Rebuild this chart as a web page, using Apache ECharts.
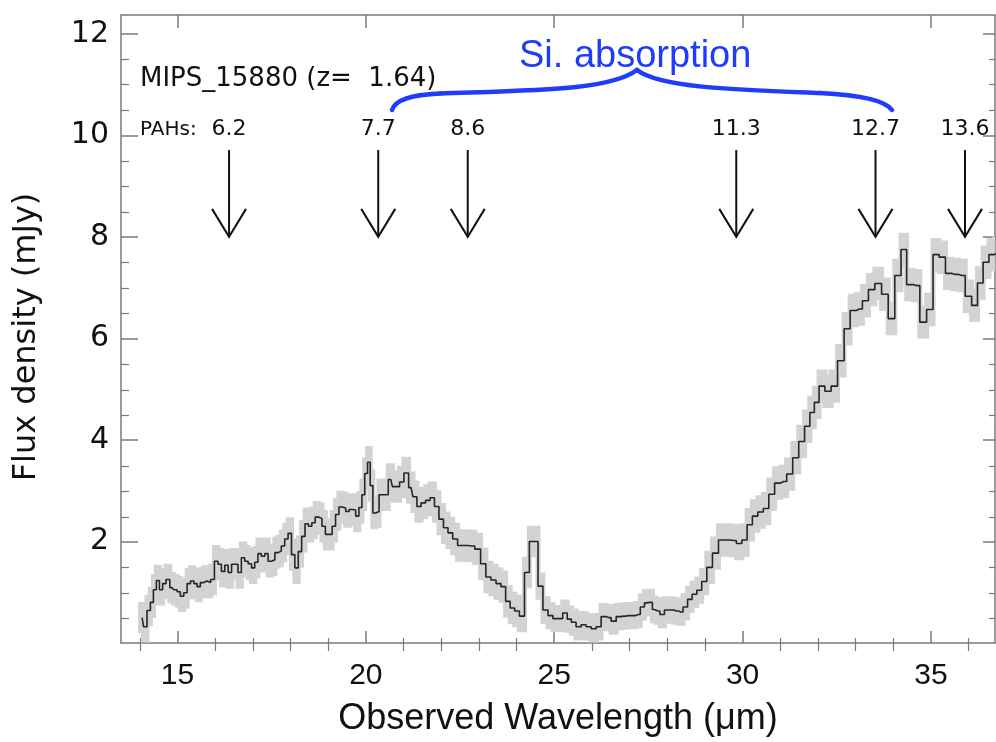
<!DOCTYPE html>
<html><head><meta charset="utf-8">
<script src="https://cdn.jsdelivr.net/npm/echarts@6/dist/echarts.min.js"></script>
<style>html,body{margin:0;padding:0;background:#fff}#c{width:996px;height:742px}</style>
</head><body><div id="c"></div><script>
// Observed wavelength (micron), bin centres
const wl = [
14.06,14.14,14.24,14.32,14.40,14.48,14.56,14.65,14.74,14.85,
14.95,15.03,15.12,15.21,15.30,15.39,15.48,15.56,15.65,15.74,
15.83,15.93,16.03,16.12,16.21,16.30,16.39,16.48,16.56,16.65,
16.74,16.83,16.92,17.01,17.09,17.18,17.27,17.36,17.45,17.54,
17.63,17.71,17.80,17.89,17.98,18.07,18.16,18.25,18.34,18.43,
18.52,18.61,18.70,18.79,18.88,18.97,19.06,19.15,19.24,19.33,
19.42,19.51,19.60,19.69,19.77,19.86,19.93,20.01,20.08,20.15,
20.22,20.30,20.40,20.53,20.66,20.75,20.84,20.95,21.07,21.20,
21.30,21.41,21.52,21.65,21.76,21.88,22.00,22.12,22.24,22.37,
22.50,22.63,22.81,22.97,23.12,23.25,23.39,23.52,23.65,23.77,
23.89,24.01,24.14,24.28,24.40,24.51,24.63,24.77,24.90,25.03,
25.16,25.29,25.40,25.51,25.65,25.78,25.91,26.05,26.18,26.31,
26.44,26.58,26.71,26.84,26.98,27.11,27.23,27.34,27.45,27.55,
27.66,27.75,27.86,27.99,28.12,28.24,28.36,28.48,28.60,28.72,
28.85,28.98,29.12,29.28,29.44,29.60,29.76,29.91,30.05,30.19,
30.33,30.48,30.62,30.77,30.93,31.09,31.25,31.41,31.57,31.72,
31.85,31.96,32.10,32.27,32.43,32.61,32.78,32.93,33.10,33.26,
33.42,33.60,33.78,33.95,34.13,34.28,34.43,34.61,34.80,34.97,
35.14,35.30,35.47,35.65,35.82,36.00,36.16,36.31,36.46,36.62,
36.75];
// Flux density (mJy)
const flux = [
0.50,0.32,0.64,0.80,1.05,1.23,1.05,1.17,1.25,1.09,
1.05,1.01,0.92,0.99,1.17,1.22,1.17,1.11,1.19,1.22,
1.19,1.25,1.61,1.55,1.41,1.53,1.39,1.55,1.55,1.39,
1.68,1.61,1.56,1.48,1.59,1.76,1.71,1.76,1.61,1.64,
1.78,1.81,1.91,2.05,2.16,1.74,1.48,1.80,2.10,2.35,
2.30,2.37,2.48,2.45,2.30,2.14,2.14,2.30,2.53,2.68,
2.66,2.59,2.63,2.62,2.50,2.67,2.92,3.34,3.56,3.10,
2.56,2.59,2.92,2.92,3.22,3.08,3.08,3.17,3.35,3.06,
2.88,2.69,2.76,2.81,2.86,2.69,2.44,2.27,2.17,2.05,
1.92,1.92,1.91,1.85,1.56,1.30,1.24,1.17,1.11,0.82,
0.69,0.63,0.53,1.39,2.00,2.00,1.12,0.65,0.54,0.48,
0.48,0.59,0.47,0.41,0.32,0.36,0.32,0.28,0.32,0.52,
0.50,0.43,0.52,0.53,0.54,0.54,0.56,0.71,0.79,0.80,
0.66,0.63,0.56,0.65,0.65,0.63,0.61,0.71,0.86,0.96,
1.04,1.21,1.49,1.77,2.03,2.03,2.02,1.96,2.03,2.33,
2.50,2.58,2.65,2.93,3.15,3.18,3.33,3.65,3.97,4.27,
4.54,4.74,5.06,4.96,5.06,5.56,6.19,6.55,6.58,6.74,
6.96,7.08,6.87,6.39,7.24,7.75,7.06,7.04,6.32,6.57,
7.65,7.60,7.28,7.26,7.24,6.83,6.65,7.09,7.50,7.65,
7.68];
// 1-sigma uncertainty (mJy)
const err = [
0.26,0.26,0.26,0.26,0.26,0.26,0.26,0.26,0.26,0.26,
0.26,0.26,0.26,0.26,0.26,0.26,0.26,0.26,0.26,0.26,
0.26,0.26,0.27,0.27,0.27,0.27,0.27,0.27,0.27,0.27,
0.27,0.27,0.27,0.27,0.27,0.27,0.27,0.27,0.27,0.27,
0.27,0.27,0.27,0.27,0.27,0.27,0.27,0.27,0.27,0.27,
0.27,0.27,0.27,0.27,0.27,0.27,0.27,0.27,0.27,0.27,
0.27,0.27,0.27,0.27,0.27,0.27,0.27,0.27,0.27,0.27,
0.27,0.27,0.27,0.27,0.27,0.27,0.27,0.27,0.27,0.27,
0.27,0.27,0.27,0.27,0.27,0.27,0.27,0.27,0.27,0.27,
0.27,0.27,0.27,0.27,0.27,0.27,0.27,0.27,0.27,0.27,
0.27,0.27,0.27,0.26,0.26,0.26,0.22,0.22,0.22,0.22,
0.22,0.22,0.22,0.22,0.22,0.22,0.22,0.22,0.22,0.22,
0.22,0.22,0.22,0.22,0.22,0.22,0.22,0.22,0.22,0.22,
0.22,0.22,0.22,0.22,0.22,0.22,0.22,0.22,0.22,0.22,
0.22,0.22,0.28,0.28,0.28,0.28,0.28,0.28,0.28,0.28,
0.28,0.28,0.28,0.28,0.28,0.28,0.28,0.28,0.28,0.28,
0.28,0.28,0.28,0.28,0.28,0.28,0.28,0.28,0.28,0.28,
0.28,0.28,0.28,0.28,0.28,0.28,0.28,0.28,0.28,0.28,
0.28,0.28,0.28,0.28,0.28,0.28,0.28,0.28,0.28,0.28,
0.28];

const xMajorTicks = [15, 20, 25, 30, 35];
const xMinorTicks = [14,16,17,18,19,21,22,23,24,26,27,28,29,31,32,33,34,36];
const yMajorTicks = [2, 4, 6, 8, 10, 12];
const yMinorTicks = [0.5,1,1.5,2.5,3,3.5,4.5,5,5.5,6.5,7,7.5,8.5,9,9.5,10.5,11,11.5];
const pahRest = [6.2, 7.7, 8.6, 11.3, 12.7, 13.6];
const pahLabels = ['6.2', '7.7', '8.6', '11.3', '12.7', '13.6'];
const redshift = 1.64;
const sourceLabel = 'MIPS_15880 (z=  1.64)';
const yTitle = 'Flux density (mJy)';
const xTitle = 'Observed Wavelength (\u03bcm)';

const X_MIN = 13.5, X_MAX = 36.7, Y_MIN = 0, Y_MAX = 12.37;
const ARROW_TOP = 9.71, ARROW_TIP = 8.0, LABEL_Y = 10.11;
const AX = '#7a7a7a';
const SANS = '"Liberation Sans", Arial, sans-serif';
const DJ = '"DejaVu Sans", sans-serif';
const BLUE = '#1f3cfa';
const BAND = '#d3d3d3';

const chart = echarts.init(document.getElementById('c'), null, {renderer: 'canvas'});
const pahObs = pahRest.map(r => r * (1 + redshift));
const lineData = wl.map((w, i) => [w, flux[i]]);

function xAxisBase(pos, gridIndex) {
  return {type: 'value', gridIndex, position: pos, min: X_MIN, max: X_MAX,
    axisLine: {show: true, onZero: false, lineStyle: {color: AX, width: 1.5}},
    splitLine: {show: false}, axisLabel: {show: false}};
}
function yAxisBase(pos, gridIndex) {
  return {type: 'value', gridIndex, position: pos, min: Y_MIN, max: Y_MAX,
    axisLine: {show: true, onZero: false, lineStyle: {color: AX, width: 1.5}},
    splitLine: {show: false}, axisLabel: {show: false}};
}

const xAxes = [
  Object.assign(xAxisBase('bottom', 0), {
    axisTick: {show: true, inside: true, length: 12, customValues: xMajorTicks, lineStyle: {color: AX, width: 1.5}},
    axisLabel: {show: true, customValues: xMajorTicks, margin: 18, fontSize: 30, color: '#111', fontFamily: SANS},
    name: xTitle, nameLocation: 'middle', nameGap: 58,
    nameTextStyle: {fontSize: 36, color: '#111', fontFamily: SANS}
  }),
  Object.assign(xAxisBase('top', 0), {
    axisTick: {show: true, inside: true, length: 13, customValues: xMajorTicks, lineStyle: {color: AX, width: 1.5}}
  }),
  Object.assign(xAxisBase('bottom', 1), {
    axisLine: {show: false},
    axisTick: {show: true, inside: true, length: 6, customValues: xMinorTicks, lineStyle: {color: AX, width: 1.2}}
  }),
  Object.assign(xAxisBase('top', 1), {
    axisLine: {show: false},
    axisTick: {show: true, inside: true, length: 7, customValues: xMinorTicks, lineStyle: {color: AX, width: 1.2}}
  })
];
const yAxes = [
  Object.assign(yAxisBase('left', 0), {
    axisTick: {show: true, inside: true, length: 17, customValues: yMajorTicks, lineStyle: {color: AX, width: 1.5}},
    axisLabel: {show: true, customValues: yMajorTicks, margin: 12, fontSize: 30, color: '#111', fontFamily: DJ}
  }),
  Object.assign(yAxisBase('right', 0), {
    axisTick: {show: true, inside: true, length: 12, customValues: yMajorTicks, lineStyle: {color: AX, width: 1.5}}
  }),
  Object.assign(yAxisBase('left', 1), {
    axisLine: {show: false},
    axisTick: {show: true, inside: true, length: 8, customValues: yMinorTicks, lineStyle: {color: AX, width: 1.2}}
  }),
  Object.assign(yAxisBase('right', 1), {
    axisLine: {show: false},
    axisTick: {show: true, inside: true, length: 6, customValues: yMinorTicks, lineStyle: {color: AX, width: 1.2}}
  })
];

const gridRect = {left: 121, right: 1, top: 15, bottom: 98};

const option = {
  backgroundColor: '#ffffff',
  animation: false,
  grid: [Object.assign({}, gridRect), Object.assign({}, gridRect)],
  xAxis: xAxes,
  yAxis: yAxes,
  series: [
    {
      name: 'uncertainty', type: 'custom', xAxisIndex: 0, yAxisIndex: 0, clip: true, silent: true, z: 1,
      data: [[wl[0], flux[0]]],
      renderItem: function (params, api) {
        const n = wl.length;
        const edgesL = [], edgesR = [];
        for (let i = 0; i < n; i++) {
          edgesL.push(i > 0 ? (wl[i - 1] + wl[i]) / 2 : wl[0] - (wl[1] - wl[0]) / 2);
          edgesR.push(i < n - 1 ? (wl[i] + wl[i + 1]) / 2 : Math.min(X_MAX, wl[n - 1] + (wl[n - 1] - wl[n - 2]) / 2));
        }
        const pts = [];
        for (let i = 0; i < n; i++) {
          pts.push(api.coord([edgesL[i], flux[i] + err[i]]));
          pts.push(api.coord([edgesR[i], flux[i] + err[i]]));
        }
        for (let i = n - 1; i >= 0; i--) {
          pts.push(api.coord([edgesR[i], Math.max(flux[i] - err[i], Y_MIN)]));
          pts.push(api.coord([edgesL[i], Math.max(flux[i] - err[i], Y_MIN)]));
        }
        return {type: 'polygon', shape: {points: pts},
          style: {fill: BAND, stroke: BAND, lineWidth: 5, lineJoin: 'miter'}};
      }
    },
    {
      name: 'flux', type: 'line', xAxisIndex: 0, yAxisIndex: 0, step: 'middle', showSymbol: false, z: 3,
      data: lineData, lineStyle: {color: '#262626', width: 1.6}, silent: true
    },
    {
      name: 'PAH', type: 'custom', xAxisIndex: 0, yAxisIndex: 0, z: 4, silent: true,
      data: pahObs.map(v => [v, ARROW_TIP]),
      renderItem: function (params, api) {
        const x = api.value(0);
        const top = api.coord([x, ARROW_TOP]);
        const tip = api.coord([x, ARROW_TIP]);
        const lbl = api.coord([x, LABEL_Y]);
        return {type: 'group', children: [
          {type: 'line', shape: {x1: top[0], y1: top[1], x2: tip[0], y2: tip[1]}, style: {stroke: '#111', lineWidth: 2}},
          {type: 'polyline', shape: {points: [[tip[0] - 17, tip[1] - 28], [tip[0], tip[1]], [tip[0] + 17, tip[1] - 28]]},
            style: {stroke: '#111', lineWidth: 2, fill: null}},
          {type: 'text', style: {text: pahLabels[params.dataIndex], x: lbl[0], y: lbl[1], align: 'center', verticalAlign: 'middle',
            fontSize: 22, fontFamily: DJ, fill: '#111'}}
        ]};
      }
    }
  ],
  graphic: [
    {type: 'text', x: 27, y: 337, rotation: Math.PI / 2,
      style: {text: yTitle, fontSize: 32, fontFamily: DJ, fill: '#111', align: 'center', verticalAlign: 'middle'}},
    {type: 'text', x: 140, y: 79, style: {text: sourceLabel, fontSize: 26, fontFamily: DJ, fill: '#111', verticalAlign: 'middle'}},
    {type: 'text', x: 140, y: 130, style: {text: 'PAHs:', fontSize: 20, fontFamily: DJ, fill: '#111', verticalAlign: 'middle'}},
    {type: 'text', x: 519, y: 57, style: {text: 'Si. absorption', fontSize: 38, fontFamily: SANS, fill: BLUE, verticalAlign: 'middle'}},
    {type: 'bezierCurve', silent: true, shape: {x1: 392, y1: 110, cpx1: 395, cpy1: 100, cpx2: 410, cpy2: 95, x2: 440, y2: 93.5},
      style: {stroke: BLUE, lineWidth: 4.5, fill: null, lineCap: 'round'}},
    {type: 'bezierCurve', silent: true, shape: {x1: 440, y1: 93.5, cpx1: 540, cpy1: 90, cpx2: 610, cpy2: 90, x2: 637, y2: 70},
      style: {stroke: BLUE, lineWidth: 4.5, fill: null, lineCap: 'round'}},
    {type: 'bezierCurve', silent: true, shape: {x1: 637, y1: 70, cpx1: 660, cpy1: 88, cpx2: 740, cpy2: 90, x2: 820, y2: 93},
      style: {stroke: BLUE, lineWidth: 4.5, fill: null, lineCap: 'round'}},
    {type: 'bezierCurve', silent: true, shape: {x1: 820, y1: 93, cpx1: 860, cpy1: 95, cpx2: 885, cpy2: 100, x2: 892, y2: 110},
      style: {stroke: BLUE, lineWidth: 4.5, fill: null, lineCap: 'round'}}
  ]
};
chart.setOption(option);
</script></body></html>
